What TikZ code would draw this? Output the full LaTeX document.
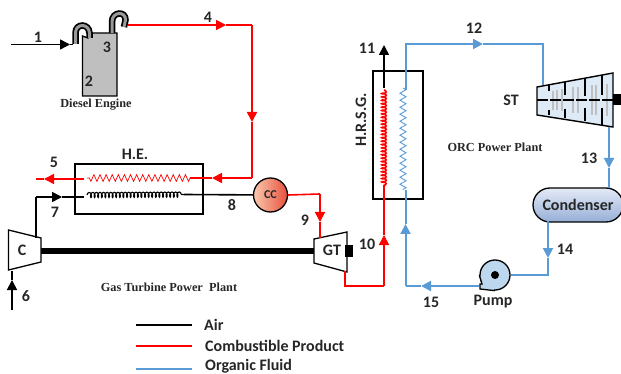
\documentclass[tikz,border=0pt]{standalone}
\usepackage{fontspec}
\setmainfont{Carlito}
\newfontfamily\capfont{Liberation Serif}
\usetikzlibrary{arrows.meta,decorations.pathmorphing,shapes.misc}
\definecolor{redl}{RGB}{255,0,0}
\definecolor{bluel}{RGB}{91,155,213}
\definecolor{pumpc}{RGB}{189,215,238}
\definecolor{stc}{RGB}{222,235,247}
\definecolor{condt}{RGB}{228,234,246}
\definecolor{condb}{RGB}{150,175,215}
\definecolor{ccin}{RGB}{250,200,175}
\definecolor{ccout}{RGB}{232,80,60}
\tikzset{
  x=1pt,y=-1pt,
  lab/.style={font=\fontsize{16}{16}\selectfont\bfseries,text=black!85,inner sep=0},
  captxt/.style={font=\capfont\fontsize{12.3}{12}\selectfont\bfseries,text=black!85,inner sep=0},
  air/.style={draw=black,line width=1.6},
  gas/.style={draw=redl,line width=1.6},
  org/.style={draw=bluel,line width=2},
  airtip/.style={air,-{Triangle[length=10,width=10]}},
  gastip/.style={gas,-{Triangle[length=10,width=10]}},
  orgtip/.style={org,-{Triangle[length=10,width=10]}},
  part/.style={draw=black,line width=1.3},
  tube/.style={line cap=butt},
  blk/.style={line width=1.8,black},
  vane/.style={line width=2.2,black!25},
}
\begin{document}
\begin{tikzpicture}
\useasboundingbox (0,0) rectangle (621,374);
% ---- named points
\foreach \n/\p in {a1/{11,44.5},a1t/{70,44.5},a1e/{73,44.5},
  e3/{128,25},g4t/{226,25},g4c/{252,25},g4d/{252,122},g4b/{252,178},g4l/{212,178},hgin/{190,178},
  hgout/{84,179},g5t/{44,179},g5e/{36,179},
  c7/{36,238},c7c/{36,197},a7t/{62,197},a7e/{84,197},hae/{184,194.5},
  g9s/{288,194},g9c/{320,194},g9t/{320,222},g9e/{320,238},
  g10s/{345,271},g10c/{345,286},g10d/{384,286},g10t/{384,235},g10e/{384,188},
  s11/{384,88},e11/{384,45},
  o15p/{479,286},o15t/{421,286},o15c/{405.5,286},o15u/{405.5,224},o15e/{405.5,190},
  o12s/{405.5,90},o12c/{405.5,44},o12t/{483,44},o12r/{543,44},o12e/{543,85},
  o13s/{609,127},o13t/{609,168},o13e/{609,188},
  o14s/{548,221},o14t/{548,258},o14c/{548,275},
  a6/{12,310},a6t/{12,280},a6e/{12,271},
  la1/{136,325},lb1/{192,325},la2/{136,346},lb2/{192,346},la3/{136,369},lb3/{192,369}}
  {\coordinate (\n) at (\p);}
% ---- shaft
\draw[line width=6,black] (41,250.5) -- (315,250.5);
% ---- diesel engine
\draw[part,fill=black!25] (82.5,36) -- (88,38) -- (92,33) -- (117,33) -- (117,96) -- (82.5,96) -- cycle;
\foreach \w/\c in {6.5/black,3/black!40}{
  \draw[line width=\w,\c,tube] (75.5,44) -- (75.5,33) .. controls (75.5,23) and (89,23) .. (89.5,33) -- (89.5,38);
  \draw[line width=\w,\c,tube] (112,33) -- (112,22) .. controls (112,11) and (126,11) .. (125.5,20) -- (124,27);
}
% ---- heat exchanger
\node[part,draw,minimum width=128,minimum height=50,inner sep=0] (he) at (139,189) {};
\node[part,draw,minimum width=50,minimum height=128,inner sep=0] (hrsg) at (398,135) {};
\draw[redl,line width=.7,decorate,decoration={zigzag,segment length=6.1,amplitude=3.4}] (hgin) -- (87,178);
\draw[black,line width=1.1,decorate,decoration={coil,segment length=3.6,amplitude=2.6}] (87,195) -- (hae);
\draw[redl,line width=1.8,decorate,decoration={coil,segment length=3.4,amplitude=2}] (384,90) -- (384,188);
\draw[bluel,line width=.9,decorate,decoration={zigzag,segment length=7,amplitude=3}] (403,88) -- (403,190);
% ---- compressor, gas turbine
\draw[part,fill=white] (8.5,230) -- (41,238) -- (41,262) -- (8.5,270) -- cycle;
\draw[part,fill=white] (314,239) -- (347,232) -- (347,272) -- (314,263) -- cycle;
\fill[black] (345,245) rectangle (353,257);
% ---- combustion chamber
\node[circle,draw=black,line width=1.3,minimum size=34,inner sep=0,left color=ccin,right color=ccout,
  lab,font=\fontsize{12}{12}\selectfont\bfseries] (cc) at (270.5,195) {CC};
% ---- steam turbine
\draw[line width=1.4,fill=stc] (537,87) -- (613,73) -- (613,127) -- (537,115) -- cycle;
\foreach \x/\a/\b in {553/91/110,557/90/110,562/89/111,573/87/113,578/87/113,592/85/115,596/85/115,607/84/116}
  \draw[vane] (\x,\a) -- (\x,\b);
\foreach \x/\a/\b/\c/\d in {549/84.5/91/110/115,565/82/95/109/118,585/78/96/108/121,602/75/95/108/125}{
  \draw[blk] (\x,\a) -- (\x,\b);
  \draw[blk] (\x,\c) -- (\x,\d);
}
\draw[line width=1.8,black,dash pattern=on 11 off 2] (537,100) -- (613,100);
\fill[black] (613,94) rectangle (621,105);
% ---- condenser
\node[rounded rectangle,draw=black,line width=1.3,minimum width=90,minimum height=34,inner sep=0,
  top color=condt,bottom color=condb,lab] (cond) at (578,205) {Condenser};
% ---- pump
\node[circle,part,fill=pumpc,minimum size=30,inner sep=0] (pumpb) at (495,275) {};
\draw[part,fill=pumpc] (pumpb.west) -- (482,284) -- (480,284) -- (480,289) -- (pumpb.south);
\node[circle,fill=black,minimum size=8,inner sep=0] (pump) at (495,275) {};
% ---- connectors
\draw[airtip] (a1) -- (a1t); \draw[air] (a1t) -- (a1e);
\draw[gastip] (e3) -- (g4t); \draw[gas] (g4t) -- (g4c);
\draw[gastip] (g4c) -- (g4d); \draw[gas] (g4d) -- (g4b);
\draw[gastip] (g4b) -- (g4l); \draw[gas] (g4l) -- (hgin);
\draw[gastip] (hgout) -- (g5t); \draw[gas] (g5t) -- (g5e);
\draw[air] (c7) -- (c7c); \draw[airtip] (c7c) -- (a7t); \draw[air] (a7t) -- (a7e);
\draw[air] (hae) -- (cc);
\draw[gas] (cc.east) -- (g9c); \draw[gastip] (g9c) -- (g9t); \draw[gas] (g9t) -- (g9e);
\draw[gas] (g10s) -- (g10c) -- (g10d); \draw[gastip] (g10d) -- (g10t); \draw[gas] (g10t) -- (g10e);
\draw[airtip] (s11) -- (e11);
\draw[orgtip] (o15p) -- (o15t); \draw[org] (o15t) -- (o15c);
\draw[orgtip] (o15c) -- (o15u); \draw[org] (o15u) -- (o15e);
\draw[orgtip] (o12s) -- (o12c) -- (o12t); \draw[org] (o12t) -- (o12r) -- (o12e);
\draw[orgtip] (o13s) -- (o13t); \draw[org] (o13t) -- (o13e);
\draw[orgtip] (o14s) -- (o14t); \draw[org] (o14t) -- (o14c) -- (pumpb.east);
\draw[airtip] (a6) -- (a6t); \draw[air] (a6t) -- (a6e);
% ---- legend
\draw[air,line width=2] (la1) -- (lb1);
\draw[gas,line width=2] (la2) -- (lb2);
\draw[org,line width=2] (la3) -- (lb3);
% ---- labels
\node[lab] (t1) at (38,37) {1};
\node[lab] (t2) at (89,81) {2};
\node[lab] (t3) at (107,47) {3};
\node[lab] (t4) at (208,17) {4};
\node[lab] (t5) at (54,162) {5};
\node[lab] (t6) at (26,296) {6};
\node[lab] (t7) at (55,212) {7};
\node[lab] (t8) at (232,205) {8};
\node[lab] (t9) at (305,220) {9};
\node[lab] (t10) at (367,244) {10};
\node[lab] (t11) at (367,48) {11};
\node[lab] (t12) at (474,28) {12};
\node[lab] (t13) at (589,158) {13};
\node[lab] (t14) at (565,249) {14};
\node[lab] (t15) at (431,302) {15};
\node[lab] (tpump) at (493,302) {Pump};
\node[lab] (the) at (135,154) {H.E.};
\node[lab] (tc) at (22,250) {C};
\node[lab] (tgt) at (332,250) {GT};
\node[lab] (tst) at (511,100) {ST};
\node[lab,rotate=90] (thrsg) at (361,120) {H.R.S.G.};
\node[captxt] (cap1) at (96,104.5) {Diesel Engine};
\node[captxt] (cap2) at (169,287) {Gas Turbine Power\ \ Plant};
\node[captxt] (cap3) at (495,147) {ORC Power Plant};
\node[lab,anchor=west] (lg1) at (204,325) {Air};
\node[lab,anchor=west] (lg2) at (205,346) {Combustible Product};
\node[lab,anchor=west] (lg3) at (205,366) {Organic Fluid};
\end{tikzpicture}
\end{document}
